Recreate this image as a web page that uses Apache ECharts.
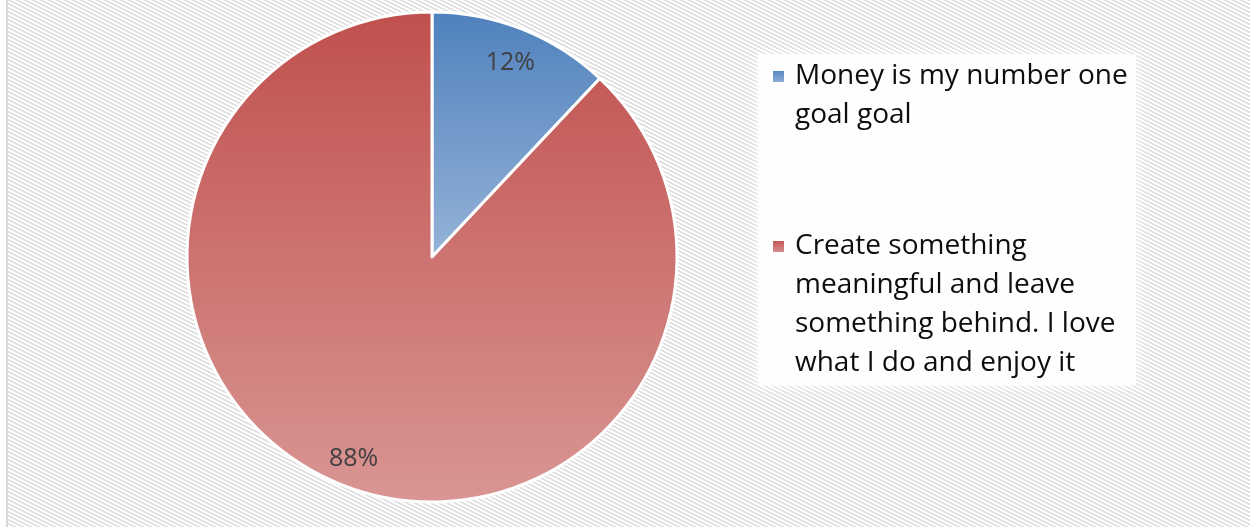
<!DOCTYPE html>
<html>
<head>
<meta charset="utf-8">
<script src="https://cdn.jsdelivr.net/npm/echarts@6/dist/echarts.min.js"></script>
<style>
  html, body { margin: 0; padding: 0; background: #ffffff; }
  #chart { width: 1250px; height: 527px; }
</style>
</head>
<body>
<div id="chart"></div>
<script>
// Survey answers and their shares (percent)
const categories = [
  'Money is my number one goal goal',
  'Create something meaningful and leave something behind. I love what I do and enjoy it'
];
const shares = [12, 88];

// Wrapped legend text for each answer
const legendLines = [
  ['Money is my number one', 'goal goal'],
  ['Create something', 'meaningful and leave', 'something behind. I love', 'what I do and enjoy it']
];

// Vertical gradients per slice (top colour, bottom colour)
const sliceTop = ['#4f81bd', '#c0504d'];
const sliceBottom = ['#95b3d7', '#d99694'];

function vGrad(top, bottom) {
  return new echarts.graphic.LinearGradient(0, 0, 0, 1, [
    { offset: 0, color: top },
    { offset: 1, color: bottom }
  ]);
}

// Diagonal hatch tile for the plot background
function hatchTile() {
  const c = document.createElement('canvas');
  c.width = 8; c.height = 4;
  const g = c.getContext('2d');
  g.fillStyle = '#ffffff';
  g.fillRect(0, 0, 8, 4);
  g.fillStyle = '#e1e1e1';
  for (let y = 0; y < 4; y++) {
    for (let k = 0; k < 4; k++) {
      const x = (2 * y + k) % 8;
      g.fillRect(x, y, 1, 1);
    }
  }
  return c;
}

const pieData = categories.map((name, i) => ({
  name: name,
  value: shares[i],
  itemStyle: { color: vGrad(sliceTop[i], sliceBottom[i]) }
}));

const center = [432, 257];
const R = 245;
const textFont = 'Open Sans';
const lh = 39;

const chart = echarts.init(document.getElementById('chart'), null, { renderer: 'canvas' });

// One legend per answer; blank lines above the text keep the first line level with the swatch
function legendFor(idx, top) {
  const lines = legendLines[idx];
  const lead = '\n'.repeat(lines.length - 1);
  return {
    data: [categories[idx]],
    orient: 'vertical',
    left: 771,
    top: top,
    padding: 0,
    itemWidth: 13,
    itemHeight: 13,
    icon: 'rect',
    selectedMode: false,
    formatter: () => lead + lines.join('\n'),
    textStyle: {
      fontFamily: textFont,
      fontSize: 28,
      color: '#0d0d0d',
      lineHeight: lh,
      padding: [0, 0, 0, 5]
    }
  };
}

chart.setOption({
  animation: false,
  graphic: [
    {
      type: 'rect',
      shape: { x: 8, y: 0, width: 1250, height: 527 },
      style: { fill: { image: hatchTile(), repeat: 'repeat' } },
      z: -10
    },
    {
      type: 'rect',
      shape: { x: 6, y: 0, width: 2, height: 527 },
      style: { fill: '#d9d9d9' },
      z: -9
    },
    {
      type: 'rect',
      shape: { x: 758, y: 54, width: 378, height: 332 },
      style: {
        fill: 'rgba(255,255,255,0.78)',
        shadowBlur: 14,
        shadowColor: 'rgba(255,255,255,0.9)'
      },
      z: -8
    }
  ],
  legend: [
    legendFor(0, 18),
    legendFor(1, 110)
  ],
  series: [
    {
      type: 'pie',
      center: center,
      radius: [0, R],
      startAngle: 90,
      clockwise: true,
      silent: true,
      data: pieData,
      itemStyle: { borderColor: '#ffffff', borderWidth: 3 },
      label: { show: false },
      labelLine: { show: false }
    },
    {
      // transparent ring that only carries the percentage labels
      type: 'pie',
      center: center,
      radius: [176, 244],
      startAngle: 90,
      clockwise: true,
      silent: true,
      legendHoverLink: false,
      data: categories.map((name, i) => ({ name: name, value: shares[i] })),
      itemStyle: { color: 'rgba(0,0,0,0)', borderWidth: 0 },
      label: {
        show: true,
        position: 'inside',
        formatter: '{c}%',
        fontFamily: textFont,
        fontSize: 25,
        color: '#404040',
        offset: [0, 4]
      },
      labelLine: { show: false },
      z: 3
    }
  ]
});
</script>
</body>
</html>
